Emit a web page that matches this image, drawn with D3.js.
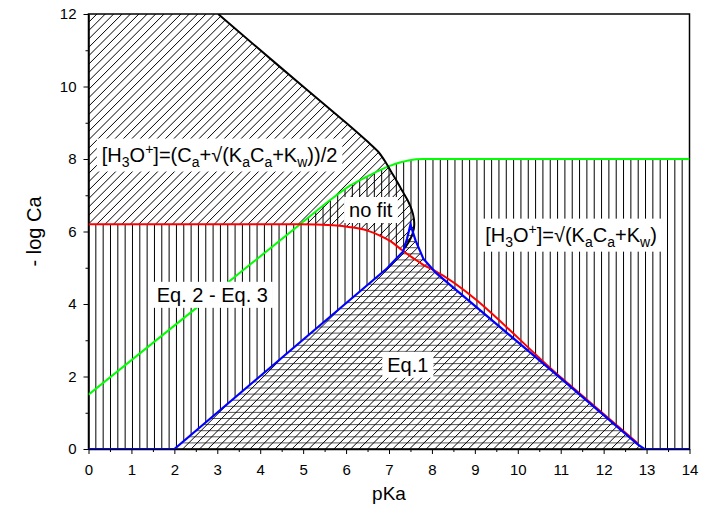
<!DOCTYPE html>
<html>
<head>
<meta charset="utf-8">
<script src="https://cdn.jsdelivr.net/npm/d3@7"></script>
<style>
  html, body { margin: 0; padding: 0; background: #fff; }
  svg { display: block; font-family: Arial, "Liberation Sans", sans-serif; }
</style>
</head>
<body>
<svg id="chart" width="703" height="509"></svg>
<script>
// ---- axis ticks ----
const xTicks = [0, 1, 2, 3, 4, 5, 6, 7, 8, 9, 10, 11, 12, 13, 14];
const xMinorTicks = [0.5, 1.5, 2.5, 3.5, 4.5, 5.5, 6.5, 7.5, 8.5, 9.5, 10.5, 11.5, 12.5, 13.5];
const yTicks = [0, 2, 4, 6, 8, 10, 12];
const yMinorTicks = [1, 3, 5, 7, 9, 11];

// ---- boundary curves: x = pKa, y = -log Ca ----
// Eq.1 validity limit (blue)
const blueX = [0, 2, 6.95, 7.33, 7.42, 7.5, 7.62, 7.8, 8.1, 11.05, 12.8, 12.95, 14];
const blueY = [0, 0, 4.98, 5.45, 5.8, 6.19, 5.75, 5.25, 4.85, 1.9, 0.12, 0, 0];
// Eq.2 limit (red)
const redX = [0, 4.93, 5.7, 6.1, 6.48, 6.8, 7.05, 7.3, 7.57, 7.8, 8.05, 11.05, 12.8];
const redY = [6.2, 6.2, 6.17, 6.12, 6.03, 5.88, 5.72, 5.49, 5.26, 5.08, 4.93, 1.93, 0.15];
// Eq.3 limit (green)
const greenX = [0, 2.5, 4.93, 5.7, 6.1, 6.48, 7.02, 7.45, 7.8, 14];
const greenY = [1.5, 3.88, 6.2, 6.93, 7.27, 7.51, 7.81, 7.96, 8.0, 8.0];
// quadratic-formula limit (black)
const blackX = [3.02, 4.5, 6.0, 6.5, 6.75, 6.9, 7.05, 7.2, 7.32, 7.44, 7.53, 7.58, 7.58, 7.5, 7.37];
const blackY = [12, 10.5, 9.0, 8.48, 8.2, 7.95, 7.65, 7.35, 7.1, 6.85, 6.6, 6.35, 6.08, 5.8, 5.55];

// ---- region labels ----
const labelTexts = [
  [["[H"], ["3", "sub"], ["O"], ["+", "sup"], ["]=(C"], ["a", "sub"], ["+\u221A(K"], ["a", "sub"], ["C"], ["a", "sub"], ["+K"], ["w", "sub"], ["))/2"]],
  [["no fit"]],
  [["[H"], ["3", "sub"], ["O"], ["+", "sup"], ["]=\u221A(K"], ["a", "sub"], ["C"], ["a", "sub"], ["+K"], ["w", "sub"], [")"]],
  [["Eq. 2 - Eq. 3"]],
  [["Eq.1"]]
];
// text start / baseline anchors in axis units
const labelAnchors = [
  [0.31, 7.93],
  [6.07, 6.40],
  [9.24, 5.72],
  [1.59, 4.06],
  [6.96, 2.13]
];

// ---- layout ----
const W = 703, H = 509;
const plot = { left: 88.5, right: 689.5, top: 14, bottom: 449 };

const svg = d3.select("#chart");
svg.append("rect").attr("width", W).attr("height", H).attr("fill", "#fff");

const x = d3.scaleLinear().domain([0, 14]).range([plot.left, plot.right]);
const y = d3.scaleLinear().domain([0, 12]).range([plot.bottom, plot.top]);

const zip = (xs, ys) => xs.map((v, i) => [v, ys[i]]);
const bluePts = zip(blueX, blueY);
const redPts = zip(redX, redY);
const greenPts = zip(greenX, greenY);
const blackPts = zip(blackX, blackY);

const lineLinear = d3.line().x(d => x(d[0])).y(d => y(d[1]));
const lineMono = d3.line().x(d => x(d[0])).y(d => y(d[1])).curve(d3.curveMonotoneX);
const lineCR = d3.line().x(d => x(d[0])).y(d => y(d[1])).curve(d3.curveCatmullRom.alpha(0.5));
const areaBelow = curve => d3.area().x(d => x(d[0])).y0(y(0)).y1(d => y(d[1])).curve(curve);
const areaAbove = curve => d3.area().x(d => x(d[0])).y0(y(12)).y1(d => y(d[1])).curve(curve);

const defs = svg.append("defs");

// plot area clip
defs.append("clipPath").attr("id", "clipPlot")
  .append("rect").attr("x", plot.left).attr("y", plot.top)
  .attr("width", plot.right - plot.left).attr("height", plot.bottom - plot.top);

// region under the red / green curves (vertical hatching)
const cpVert = defs.append("clipPath").attr("id", "clipVert");
cpVert.append("path").attr("d", areaBelow(d3.curveMonotoneX)(redPts));
cpVert.append("path").attr("d", areaBelow(d3.curveMonotoneX)(greenPts));

// triangle below the blue curve
defs.append("clipPath").attr("id", "clipTri")
  .append("path").attr("d", areaBelow(d3.curveLinear)(bluePts));

// above the red curve
defs.append("clipPath").attr("id", "clipAboveRed")
  .append("path").attr("d", areaAbove(d3.curveMonotoneX)(redPts.concat([[14, redY[redY.length - 1]]])));

// left of the black curve
const blackPath = lineCR(blackPts);
const last = blackPts[blackPts.length - 1];
defs.append("clipPath").attr("id", "clipLeftBlack")
  .append("path")
  .attr("d", `M${x(0)},${y(12)}` + blackPath.replace(/^M/, "L") +
             `L${x(last[0])},${y(0)}L${x(0)},${y(0)}Z`);

// ---- hatch line generators ----
const pw = plot.right - plot.left, ph = plot.bottom - plot.top;

function verticalHatch(g) {
  const step = pw / 82;
  for (let k = 1; k < 82; k++) {
    const xx = plot.left + k * step;
    g.append("line").attr("x1", xx).attr("x2", xx)
      .attr("y1", plot.top).attr("y2", plot.bottom);
  }
}
function horizontalHatch(g) {
  const step = 6.1;
  for (let yy = plot.bottom - step; yy > plot.top; yy -= step) {
    g.append("line").attr("x1", plot.left).attr("x2", plot.right)
      .attr("y1", yy).attr("y2", yy);
  }
}
function diagonalHatch(g) {
  const step = 8.4;
  for (let c = plot.left - ph; c < plot.right; c += step) {
    g.append("line").attr("x1", c).attr("y1", plot.bottom)
      .attr("x2", c + ph).attr("y2", plot.top);
  }
}

const hatchStyle = g => g.attr("stroke", "#000").attr("stroke-width", 1).attr("fill", "none");

const plotG = svg.append("g").attr("clip-path", "url(#clipPlot)");

// vertical hatching region
verticalHatch(plotG.append("g").attr("clip-path", "url(#clipVert)").call(hatchStyle));

// Eq.1 triangle: white base, horizontal + diagonal hatching
plotG.append("path").attr("d", areaBelow(d3.curveLinear)(bluePts)).attr("fill", "#fff");
const triG = plotG.append("g").attr("clip-path", "url(#clipTri)");
horizontalHatch(triG.append("g").attr("stroke", "#444").attr("stroke-width", 0.9).attr("fill", "none"));
diagonalHatch(triG.append("g").call(hatchStyle));

// upper-left region (above red, left of black): diagonal hatching
const diagG = plotG.append("g").attr("clip-path", "url(#clipAboveRed)")
  .append("g").attr("clip-path", "url(#clipLeftBlack)").call(hatchStyle);
diagonalHatch(diagG);

// ---- frame and axes ----
svg.append("rect")
  .attr("x", plot.left).attr("y", plot.top)
  .attr("width", pw).attr("height", ph)
  .attr("fill", "none").attr("stroke", "#000").attr("stroke-width", 1.5);

const fontFam = 'Arial, "Liberation Sans", sans-serif';

svg.append("g").attr("transform", `translate(0,${plot.bottom})`)
  .call(d3.axisBottom(x).tickValues(xTicks).tickFormat(d3.format("d"))
    .tickSize(5).tickSizeOuter(0).tickPadding(10));
svg.append("g").attr("transform", `translate(0,${plot.bottom})`)
  .call(d3.axisBottom(x).tickValues(xMinorTicks).tickFormat("")
    .tickSize(3).tickSizeOuter(0))
  .call(g => g.select(".domain").remove());

svg.append("g").attr("transform", `translate(${plot.left},0)`)
  .call(d3.axisLeft(y).tickValues(yTicks).tickFormat(d3.format("d"))
    .tickSize(5).tickSizeOuter(0).tickPadding(7));
svg.append("g").attr("transform", `translate(${plot.left},0)`)
  .call(d3.axisLeft(y).tickValues(yMinorTicks).tickFormat("")
    .tickSize(3).tickSizeOuter(0))
  .call(g => g.select(".domain").remove());

svg.selectAll(".tick text").attr("font-size", 15).attr("font-family", fontFam).attr("fill", "#000");
svg.selectAll(".domain").attr("stroke-width", 1.5);
svg.selectAll(".tick line").attr("stroke-width", 1);

// axis titles
svg.append("text")
  .attr("x", (plot.left + plot.right) / 2).attr("y", 500)
  .attr("text-anchor", "middle").attr("font-size", 19).text("pKa");
svg.append("text")
  .attr("transform", `translate(41,${(plot.top + plot.bottom) / 2}) rotate(-90)`)
  .attr("text-anchor", "middle").attr("font-size", 20).text("- log Ca");

// ---- boundary curves ----
const curveG = svg.append("g").attr("clip-path", "url(#clipPlot)").attr("fill", "none");
curveG.append("path").attr("d", lineMono(greenPts)).attr("stroke", "#00ff00").attr("stroke-width", 2);
curveG.append("path").attr("d", blackPath).attr("stroke", "#000").attr("stroke-width", 2);
curveG.append("path").attr("d", lineMono(redPts)).attr("stroke", "#ff0000").attr("stroke-width", 2);
curveG.append("path").attr("d", lineLinear(bluePts)).attr("stroke", "#0000ff").attr("stroke-width", 2.2);

// ---- region labels on white boxes ----
function richText(g, segs, px, py, size) {
  const t = g.append("text").attr("x", px).attr("y", py).attr("font-size", size).attr("fill", "#000");
  let shift = 0;
  segs.forEach(([s, kind]) => {
    const target = kind === "sub" ? 5 : kind === "sup" ? -8 : 0;
    t.append("tspan").attr("dy", target - shift)
      .attr("font-size", kind ? size * 0.7 : size).text(s);
    shift = target;
  });
  return t;
}

const labelG = svg.append("g");
labelTexts.forEach((segs, i) => {
  const [ax, ay] = labelAnchors[i];
  const t = richText(labelG, segs, x(ax), y(ay), 20);
  const bb = t.node().getBBox();
  labelG.insert("rect", () => t.node())
    .attr("x", bb.x - 5).attr("y", bb.y - 2)
    .attr("width", bb.width + 10).attr("height", bb.height + 4)
    .attr("fill", "#fff");
});
</script>
</body>
</html>
